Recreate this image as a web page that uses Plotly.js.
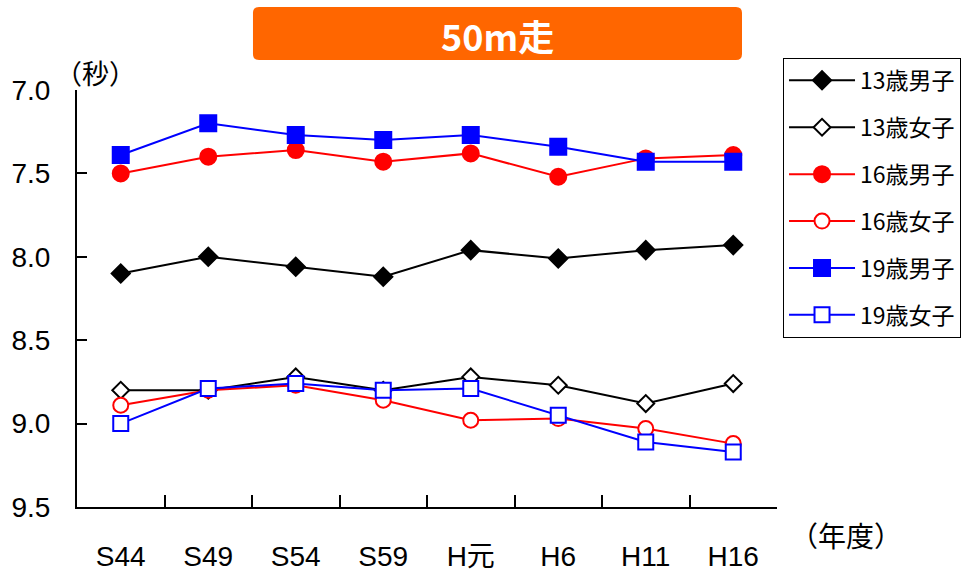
<!DOCTYPE html>
<html>
<head>
<meta charset="utf-8">
<script src="https://cdn.plot.ly/plotly-3.0.1.min.js"></script>
<style>html,body{margin:0;padding:0;background:#fff;}#chart{width:968px;height:572px;}</style>
</head>
<body>
<div id="chart"></div>
<script>
var years = ["S44", "S49", "S54", "S59", "H元", "H6", "H11", "H16"];
var seriesNames = ["13歳男子", "13歳女子", "16歳男子", "16歳女子", "19歳男子", "19歳女子"];
var boys13  = [8.10, 8.00, 8.06, 8.12, 7.96, 8.01, 7.96, 7.93];
var girls13 = [8.80, 8.80, 8.72, 8.80, 8.72, 8.77, 8.88, 8.76];
var boys16  = [7.50, 7.40, 7.36, 7.43, 7.38, 7.52, 7.41, 7.39];
var girls16 = [8.89, 8.80, 8.77, 8.86, 8.98, 8.97, 9.03, 9.12];
var boys19  = [7.39, 7.20, 7.27, 7.30, 7.27, 7.34, 7.43, 7.43];
var girls19 = [9.00, 8.79, 8.76, 8.80, 8.79, 8.95, 9.11, 9.17];
var yTicks = [7.0, 7.5, 8.0, 8.5, 9.0, 9.5];

var FONT = '"Liberation Sans", Arial, "Noto Sans CJK JP", sans-serif';
var CJK = '"Noto Sans CJK JP", "Liberation Sans", sans-serif';

function tr(name, y, color, symbol, size, hollow, gi) {
  return {
    type: 'scatter', mode: 'lines+markers', name: name, x: years, y: y,
    legendgroup: 'g' + gi,
    line: {color: color, width: 2},
    marker: {symbol: symbol, size: size, color: hollow ? '#ffffff' : color,
             line: {color: color, width: 2}},
    cliponaxis: false
  };
}

var data = [
  tr(seriesNames[0], boys13, '#000000', 'diamond', 14, false, 0),
  tr(seriesNames[1], girls13, '#000000', 'diamond', 13, true, 1),
  tr(seriesNames[2], boys16, '#ff0000', 'circle', 16, false, 2),
  tr(seriesNames[3], girls16, '#ff0000', 'circle', 15, true, 3),
  tr(seriesNames[4], boys19, '#0000ff', 'square', 16, false, 4),
  tr(seriesNames[5], girls19, '#0000ff', 'square', 15, true, 5)
];

var dx = 6/700, dy = 6/417;
var x0 = 0.2514, x1 = 0.95, y0 = 1.072, y1 = 1.199;
var boxPath = 'M' + (x0+dx) + ',' + y1 + ' L' + (x1-dx) + ',' + y1 +
  ' Q' + x1 + ',' + y1 + ' ' + x1 + ',' + (y1-dy) +
  ' L' + x1 + ',' + (y0+dy) + ' Q' + x1 + ',' + y0 + ' ' + (x1-dx) + ',' + y0 +
  ' L' + (x0+dx) + ',' + y0 + ' Q' + x0 + ',' + y0 + ' ' + x0 + ',' + (y0+dy) +
  ' L' + x0 + ',' + (y1-dy) + ' Q' + x0 + ',' + y1 + ' ' + (x0+dx) + ',' + y1 + ' Z';

var layout = {
  width: 968, height: 572,
  margin: {l: 77, r: 191, t: 90, b: 65, autoexpand: false},
  paper_bgcolor: '#ffffff', plot_bgcolor: '#ffffff',
  font: {family: FONT, color: '#000000'},
  showlegend: true,
  legend: {
    x: 1.0086, xanchor: 'left', y: 1.077, yanchor: 'top',
    bgcolor: '#ffffff', bordercolor: '#000000', borderwidth: 1,
    font: {family: CJK, size: 23, color: '#000000'},
    tracegroupgap: 14, itemwidth: 66
  },
  xaxis: {
    type: 'category', categoryorder: 'array', categoryarray: years,
    range: [-0.5, 7.5],
    showline: true, linecolor: '#000000', linewidth: 2,
    ticks: 'inside', tickson: 'boundaries', ticklen: 12, tickwidth: 2, tickcolor: '#000000',
    showgrid: false, zeroline: false,
    tickfont: {family: FONT, size: 28, color: '#000000'},
    ticklabelstandoff: 23
  },
  yaxis: {
    range: [9.5, 7.0], tickvals: yTicks, tickformat: '.1f',
    showline: true, linecolor: '#000000', linewidth: 2,
    ticks: 'inside', ticklen: 10, tickwidth: 2, tickcolor: '#000000',
    showgrid: false, zeroline: false,
    tickfont: {family: FONT, size: 28, color: '#000000'},
    ticklabelstandoff: 19
  },
  shapes: [{type: 'path', xref: 'paper', yref: 'paper', path: boxPath,
            fillcolor: '#ff6600', line: {width: 0}}],
  annotations: [
    {text: '<b>50m走</b>', xref: 'paper', yref: 'paper', x: 0.601, y: 1.132,
     xanchor: 'center', yanchor: 'middle', showarrow: false,
     font: {family: CJK, size: 36, color: '#ffffff'}},
    {text: '（秒）', xref: 'paper', yref: 'paper', x: 0.026, y: 1.043,
     xanchor: 'center', yanchor: 'middle', showarrow: false,
     font: {family: CJK, size: 27, color: '#000000'}},
    {text: '（年度）', xref: 'paper', yref: 'paper', x: 1.0986, y: -0.067,
     xanchor: 'center', yanchor: 'middle', showarrow: false,
     font: {family: CJK, size: 28, color: '#000000'}}
  ]
};

Plotly.newPlot('chart', data, layout, {staticPlot: true, displayModeBar: false});
</script>
</body>
</html>
